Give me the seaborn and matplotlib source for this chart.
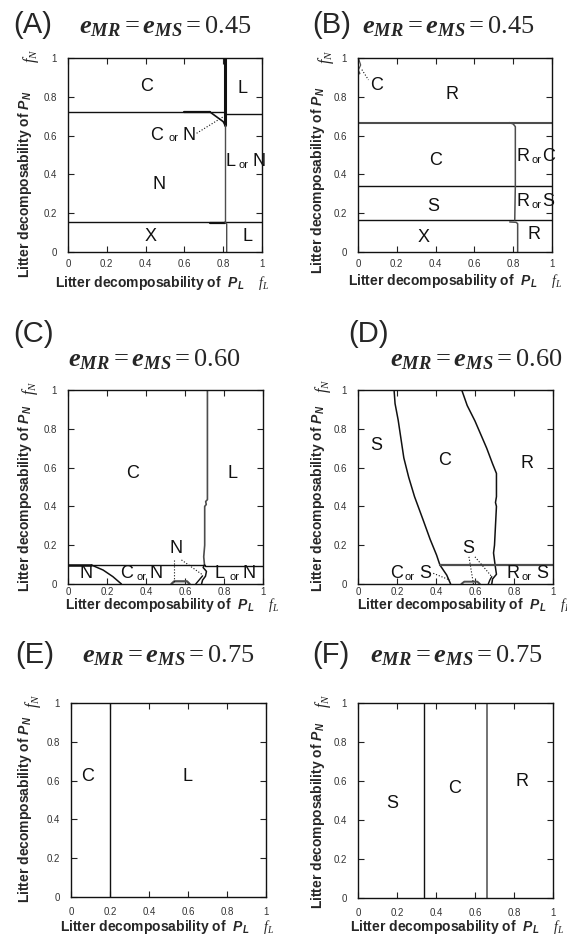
import numpy as np  # noqa: F401
import matplotlib
matplotlib.use("Agg")
import matplotlib.pyplot as plt
import seaborn as sns

W, H = 567, 942
TICKS       = [0, 0.2, 0.4, 0.6, 0.8, 1.0]
TICK_LABELS = ["0", "0.2", "0.4", "0.6", "0.8", "1"]
PANEL_TAGS  = ["(A)", "(B)", "(C)", "(D)", "(E)", "(F)"]
E_VALUES    = ["0.45", "0.45", "0.60", "0.60", "0.75", "0.75"]

# ─── (A) boundaries ────────────────────────────────────────────────────────────
A_CN_X,   A_CN_Y   = [0.0, 0.809], [0.723, 0.723]
A_CNB_X,  A_CNB_Y  = [0.60, 0.73], [0.723, 0.723]
A_DIAG_X, A_DIAG_Y = [0.73, 0.80, 0.809], [0.723, 0.672, 0.655]
A_VTOP_X, A_VTOP_Y = [0.809, 0.809], [1.0, 0.655]
A_LR_X,   A_LR_Y   = [0.809, 1.0], [0.711, 0.711]
A_VMID_X, A_VMID_Y = [0.809, 0.809], [0.655, 0.155]
A_NX_X,   A_NX_Y   = [0.0, 1.0], [0.155, 0.155]
A_NXB_X,  A_NXB_Y  = [0.73, 0.809], [0.15, 0.15]
A_VLOW_X, A_VLOW_Y = [0.809, 0.818, 0.818], [0.155, 0.145, 0.0]
A_DOT_X,  A_DOT_Y  = [0.663, 0.80], [0.612, 0.697]
A_LAB   = ["C", "L", "C", "or", "N", "N", "L", "or", "N", "X", "L"]
A_LAB_X = [0.406, 0.897, 0.459, 0.545, 0.622, 0.467, 0.837, 0.905, 0.983, 0.424, 0.923]
A_LAB_Y = [0.851, 0.842, 0.603, 0.603, 0.603, 0.346, 0.466, 0.466, 0.466, 0.080, 0.080]

# ─── (B) boundaries ────────────────────────────────────────────────────────────
B_CORN_X, B_CORN_Y = [0.002, 0.014, 0.002, 0.010, 0.0], [1.0, 0.964, 0.938, 0.92, 0.915]
B_DOT_X,  B_DOT_Y  = [0.02, 0.054], [0.94, 0.887]
B_RC_X,   B_RC_Y   = [0.0, 1.0], [0.667, 0.667]
B_CS_X,   B_CS_Y   = [0.0, 1.0], [0.341, 0.341]
B_SX_X,   B_SX_Y   = [0.0, 1.0], [0.166, 0.166]
B_VMID_X, B_VMID_Y = [0.78, 0.80, 0.811, 0.811, 0.808], [0.667, 0.660, 0.646, 0.341, 0.166]
B_VLOW_X, B_VLOW_Y = [0.782, 0.815, 0.823, 0.823], [0.155, 0.153, 0.146, 0.0]
B_LAB   = ["C", "R", "C", "R", "or", "C", "S", "R", "or", "S", "X", "R"]
B_LAB_X = [0.094, 0.485, 0.399, 0.848, 0.918, 0.98, 0.39, 0.848, 0.918, 0.98, 0.338, 0.905]
B_LAB_Y = [0.86, 0.813, 0.474, 0.491, 0.491, 0.491, 0.235, 0.26, 0.26, 0.26, 0.077, 0.089]

# ─── (C) boundaries ────────────────────────────────────────────────────────────
C_V_X = [0.715, 0.715, 0.706, 0.709, 0.701, 0.701, 0.696, 0.700]
C_V_Y = [1.0, 0.435, 0.425, 0.41, 0.40, 0.20, 0.14, 0.098]
C_HL_X,  C_HL_Y  = [0.0, 0.70], [0.098, 0.098]
C_HLB_X, C_HLB_Y = [0.0, 0.12], [0.098, 0.098]
C_HR_X,  C_HR_Y  = [0.70, 1.0], [0.093, 0.093]
C_CRV_X = [0.12, 0.18, 0.23, 0.274]
C_CRV_Y = [0.098, 0.072, 0.038, 0.0]
C_BLOB_X = [0.53, 0.545, 0.61, 0.624]
C_BLOB_Y = [0.0, 0.014, 0.014, 0.0]
C_LOOP_X = [0.700, 0.693, 0.710, 0.705, 0.690, 0.685]
C_LOOP_Y = [0.098, 0.085, 0.065, 0.040, 0.020, 0.0]
C_LOOP2_X, C_LOOP2_Y = [0.655, 0.672, 0.690], [0.0, 0.02, 0.042]
C_DOT1_X, C_DOT1_Y = [0.544, 0.544], [0.124, 0.005]
C_DOT2_X, C_DOT2_Y = [0.582, 0.692], [0.124, 0.046]
C_LAB   = ["C", "L", "N", "N", "C", "or", "N", "L", "or", "N"]
C_LAB_X = [0.33, 0.846, 0.556, 0.094, 0.30, 0.376, 0.453, 0.775, 0.855, 0.93]
C_LAB_Y = [0.57, 0.57, 0.184, 0.055, 0.055, 0.055, 0.055, 0.055, 0.055, 0.055]

# ─── (D) boundaries ────────────────────────────────────────────────────────────
D_L_X = [0.185, 0.19, 0.206, 0.235, 0.26, 0.29, 0.334, 0.37, 0.403, 0.42, 0.455, 0.475]
D_L_Y = [1.0, 0.93, 0.845, 0.65, 0.55, 0.45, 0.33, 0.23, 0.149, 0.098, 0.046, 0.0]
D_R_X = [0.532, 0.56, 0.60, 0.63, 0.66, 0.69, 0.71, 0.71, 0.705, 0.71, 0.705, 0.70, 0.695,
         0.703, 0.71, 0.69, 0.686]
D_R_Y = [1.0, 0.92, 0.84, 0.77, 0.70, 0.62, 0.57, 0.45, 0.42, 0.40, 0.30, 0.20, 0.16,
         0.098, 0.05, 0.026, 0.0]
D_H_X,  D_H_Y  = [0.42, 1.0], [0.098, 0.098]
D_BLOB_X = [0.53, 0.545, 0.612, 0.625]
D_BLOB_Y = [0.0, 0.012, 0.012, 0.0]
D_LOOP_X, D_LOOP_Y = [0.668, 0.676, 0.686], [0.0, 0.02, 0.038]
D_DOT1_X, D_DOT1_Y = [0.386, 0.472], [0.055, 0.02]
D_DOT2_X, D_DOT2_Y = [0.569, 0.592], [0.14, 0.0]
D_DOT3_X, D_DOT3_Y = [0.60, 0.686], [0.14, 0.038]
D_LAB   = ["S", "C", "R", "S", "C", "or", "S", "R", "or", "S"]
D_LAB_X = [0.094, 0.446, 0.866, 0.566, 0.197, 0.266, 0.343, 0.797, 0.866, 0.943]
D_LAB_Y = [0.716, 0.639, 0.619, 0.184, 0.055, 0.055, 0.055, 0.055, 0.055, 0.055]

# ─── (E) / (F) boundaries ──────────────────────────────────────────────────────
E_V_X, E_V_Y = [0.2, 0.2], [0.0, 1.0]
E_LAB   = ["C", "L"]
E_LAB_X = [0.084, 0.598]
E_LAB_Y = [0.619, 0.619]

F_V1_X, F_V1_Y = [0.338, 0.338], [0.0, 1.0]
F_V2_X, F_V2_Y = [0.662, 0.662], [0.0, 1.0]
F_LAB   = ["S", "C", "R"]
F_LAB_X = [0.176, 0.496, 0.843]
F_LAB_Y = [0.483, 0.56, 0.596]

BLACK, GRAY = "#111111", "#4d4d4d"

# (xs, ys, colour, linewidth, linestyle)
LINES = {
    "A": [(A_CN_X, A_CN_Y, BLACK, 1.0, "-"), (A_CNB_X, A_CNB_Y, BLACK, 1.6, "-"),
          (A_DIAG_X, A_DIAG_Y, BLACK, 1.2, "-"), (A_VTOP_X, A_VTOP_Y, BLACK, 2.2, "-"),
          (A_LR_X, A_LR_Y, BLACK, 1.0, "-"), (A_VMID_X, A_VMID_Y, GRAY, 1.0, "-"),
          (A_NX_X, A_NX_Y, BLACK, 1.0, "-"), (A_NXB_X, A_NXB_Y, BLACK, 1.6, "-"),
          (A_VLOW_X, A_VLOW_Y, GRAY, 1.0, "-"), (A_DOT_X, A_DOT_Y, BLACK, 0.8, ":")],
    "B": [(B_CORN_X, B_CORN_Y, GRAY, 0.8, "-"), (B_DOT_X, B_DOT_Y, BLACK, 0.8, ":"),
          (B_RC_X, B_RC_Y, GRAY, 1.5, "-"), (B_CS_X, B_CS_Y, BLACK, 1.0, "-"),
          (B_SX_X, B_SX_Y, BLACK, 1.0, "-"), (B_VMID_X, B_VMID_Y, GRAY, 1.1, "-"),
          (B_VLOW_X, B_VLOW_Y, GRAY, 1.1, "-")],
    "C": [(C_V_X, C_V_Y, GRAY, 1.2, "-"), (C_HL_X, C_HL_Y, BLACK, 1.0, "-"),
          (C_HLB_X, C_HLB_Y, BLACK, 1.8, "-"), (C_HR_X, C_HR_Y, BLACK, 1.0, "-"),
          (C_CRV_X, C_CRV_Y, BLACK, 1.1, "-"), (C_BLOB_X, C_BLOB_Y, GRAY, 1.6, "-"),
          (C_LOOP_X, C_LOOP_Y, BLACK, 1.1, "-"), (C_LOOP2_X, C_LOOP2_Y, BLACK, 1.0, "-"),
          (C_DOT1_X, C_DOT1_Y, BLACK, 0.8, ":"), (C_DOT2_X, C_DOT2_Y, BLACK, 0.8, ":")],
    "D": [(D_L_X, D_L_Y, BLACK, 1.1, "-"), (D_R_X, D_R_Y, BLACK, 1.1, "-"),
          (D_H_X, D_H_Y, GRAY, 1.6, "-"), (D_BLOB_X, D_BLOB_Y, GRAY, 1.4, "-"),
          (D_LOOP_X, D_LOOP_Y, BLACK, 1.0, "-"), (D_DOT1_X, D_DOT1_Y, BLACK, 0.8, ":"),
          (D_DOT2_X, D_DOT2_Y, BLACK, 0.8, ":"), (D_DOT3_X, D_DOT3_Y, BLACK, 0.8, ":")],
    "E": [(E_V_X, E_V_Y, BLACK, 1.0, "-")],
    "F": [(F_V1_X, F_V1_Y, BLACK, 1.0, "-"), (F_V2_X, F_V2_Y, GRAY, 1.1, "-")],
}
LABELS = {
    "A": (A_LAB, A_LAB_X, A_LAB_Y), "B": (B_LAB, B_LAB_X, B_LAB_Y),
    "C": (C_LAB, C_LAB_X, C_LAB_Y), "D": (D_LAB, D_LAB_X, D_LAB_Y),
    "E": (E_LAB, E_LAB_X, E_LAB_Y), "F": (F_LAB, F_LAB_X, F_LAB_Y),
}

# layout, in pixels: axes box, tag / equation baselines, ylabel bottom,
# f_N centre, xlabel left + baseline, x tick pad (pt)
LAYOUT = {
    "A": dict(box=(68, 58, 194, 194), tag=(13, 33), eq=(79, 33),
              ylab=(25, 278), fn=(31, 56), xlab=(55, 287), pad=5),
    "B": dict(box=(358, 58, 194, 194), tag=(312, 33), eq=(362, 33),
              ylab=(318, 274), fn=(326, 57), xlab=(348, 285), pad=5),
    "C": dict(box=(68, 390, 195, 194), tag=(13, 342), eq=(68, 366),
              ylab=(25, 592), fn=(30, 388), xlab=(65, 609), pad=2),
    "D": dict(box=(358, 390, 195, 194), tag=(348, 342), eq=(390, 366),
              ylab=(318, 592), fn=(323, 386), xlab=(357, 609), pad=2),
    "E": dict(box=(71, 703, 195, 194), tag=(15, 663), eq=(82, 662),
              ylab=(25, 903), fn=(33, 701), xlab=(60, 931), pad=7),
    "F": dict(box=(358, 703, 195, 195), tag=(312, 663), eq=(370, 662),
              ylab=(318, 909), fn=(323, 701), xlab=(350, 931), pad=7),
}

sns.set_theme(style="ticks")
plt.rcParams["font.family"] = ["Liberation Sans", "DejaVu Sans"]
plt.rcParams["mathtext.fontset"] = "custom"
plt.rcParams["mathtext.rm"] = "Liberation Serif"
plt.rcParams["mathtext.it"] = "Liberation Serif:italic"
plt.rcParams["mathtext.bf"] = "Liberation Serif:italic:bold"
plt.rcParams["mathtext.sf"] = "Liberation Sans:italic:bold"


def fxy(px, py):
    return px / W, 1 - py / H


fig = plt.figure(figsize=(W / 100, H / 100), dpi=100)

for i, key in enumerate(["A", "B", "C", "D", "E", "F"]):
    lay = LAYOUT[key]
    l, t, w, h = lay["box"]
    ax = fig.add_axes([l / W, 1 - (t + h) / H, w / W, h / H])

    for xs, ys, col, lw, ls in LINES[key]:
        sns.lineplot(x=xs, y=ys, sort=False, estimator=None, color=col,
                     lw=lw, ls=ls, ax=ax, legend=False)

    texts, lx, ly = LABELS[key]
    for s, x, y in zip(texts, lx, ly):
        if s == "or":
            ax.annotate(s, (x, y), xytext=(0, -4.6), textcoords="offset points",
                        ha="center", va="baseline", fontsize=8, color="#111")
        else:
            ax.text(x, y, s, ha="center", va="center", fontsize=13, color="#111")

    ax.set_xlim(0, 1)
    ax.set_ylim(0, 1)
    ax.set_xticks(TICKS, TICK_LABELS)
    ax.set_yticks(TICKS, TICK_LABELS)
    ax.set_xlabel("")
    ax.set_ylabel("")
    ax.tick_params(direction="in", top=True, right=True, length=4, width=0.8,
                   labelsize=7, labelcolor="#333333", color="#222222")
    ax.tick_params(axis="x", pad=lay["pad"])
    ax.tick_params(axis="y", pad=8)
    for sp in ax.spines.values():
        sp.set_visible(True)
        sp.set_color("#111111")
        sp.set_linewidth(1.0)

    # panel tag and efficiency value
    fig.text(*fxy(*lay["tag"]), PANEL_TAGS[i], fontsize=21, ha="left", va="baseline")
    fig.text(*fxy(*lay["eq"]),
             r"$\mathbf{e}_{\mathbf{MR}} = \mathbf{e}_{\mathbf{MS}} = %s$" % E_VALUES[i],
             fontsize=19, ha="left", va="baseline")

    # axis titles
    fig.text(*fxy(*lay["ylab"]),
             r"Litter decomposability of $\mathsf{P}_{\mathsf{N}}$",
             rotation=90, ha="center", va="bottom", fontsize=10, fontweight="bold")
    fig.text(*fxy(*lay["fn"]), r"$f_N$", rotation=90, ha="center", va="center",
             fontsize=11.5, color="#222222")
    fig.text(*fxy(*lay["xlab"]),
             r"Litter decomposability of  $\mathsf{P}_{\mathsf{L}}$    $f_L$",
             ha="left", va="baseline", fontsize=10, fontweight="bold")

fig.savefig("out.png", dpi=100)
plt.close(fig)
